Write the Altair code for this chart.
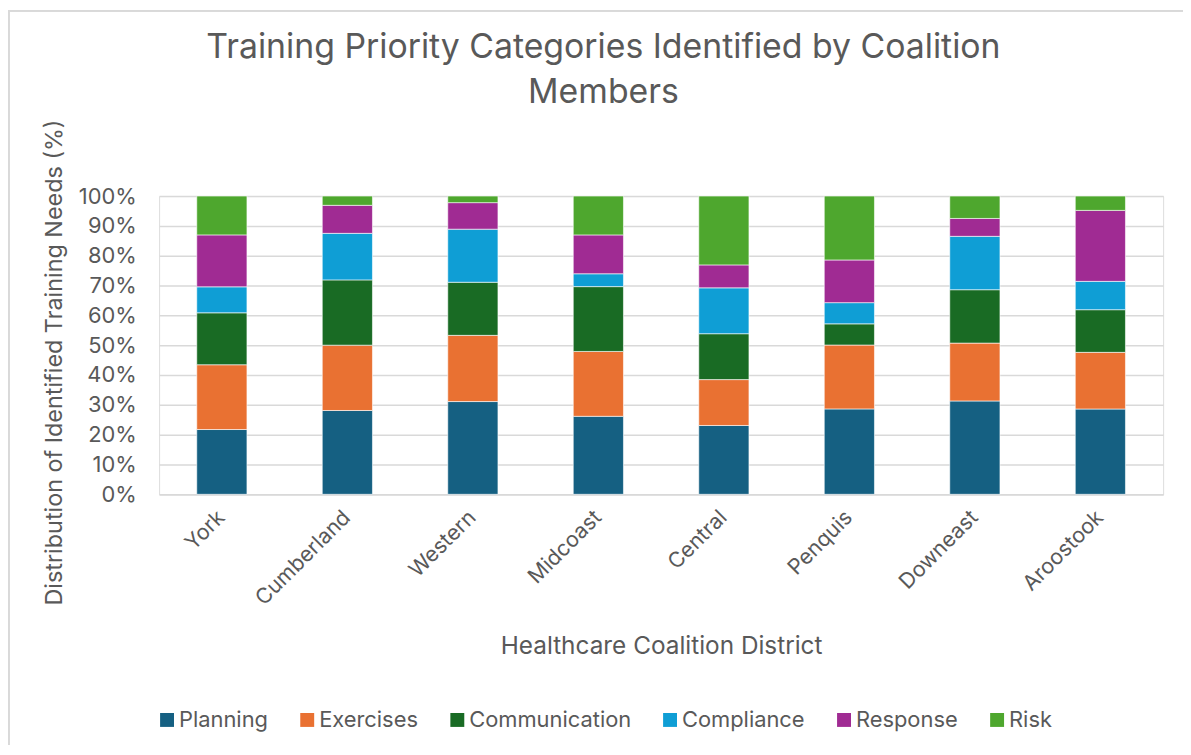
import altair as alt
import pandas as pd

districts = ["York", "Cumberland", "Western", "Midcoast", "Central", "Penquis", "Downeast", "Aroostook"]
categories = ["Planning", "Exercises", "Communication", "Compliance", "Response", "Risk"]
colors = ["#156082", "#E97132", "#196B24", "#0F9ED5", "#A02B93", "#4EA72E"]

planning      = [21.7, 28.1, 31.1, 26.1, 23.1, 28.6, 31.3, 28.6]
exercises     = [21.7, 21.9, 22.2, 21.7, 15.4, 21.4, 19.4, 19.0]
communication = [17.4, 21.9, 17.8, 21.7, 15.4, 7.1, 17.9, 14.3]
compliance    = [8.7, 15.6, 17.8, 4.3, 15.4, 7.1, 17.9, 9.5]
response      = [17.4, 9.4, 8.9, 13.0, 7.7, 14.3, 6.0, 23.8]
risk          = [13.0, 3.1, 2.2, 13.0, 23.1, 21.4, 7.5, 4.8]

series = [planning, exercises, communication, compliance, response, risk]
rows = []
for ci, (cat, vals) in enumerate(zip(categories, series)):
    for d, v in zip(districts, vals):
        rows.append({"District": d, "Category": cat, "Value": v, "idx": ci})
df = pd.DataFrame(rows)

FONT = "Inter"
GREY = "#595959"

bars = alt.Chart(df).mark_bar(stroke="white", strokeWidth=0.6).encode(
    x=alt.X("District:N", sort=districts,
            scale=alt.Scale(paddingInner=0.6, paddingOuter=0.3),
            axis=alt.Axis(title="Healthcare Coalition District", labelAngle=-45,
                          labelAlign="right", labelBaseline="middle", labelPadding=20,
                          ticks=False, domainColor="#d9d9d9", domainWidth=1.5,
                          labelFontSize=21.5, titleFontSize=24.5, labelColor=GREY, titleColor=GREY,
                          titleFontWeight="normal", titleY=153, titleBaseline="middle",
                          labelFont=FONT, titleFont=FONT)),
    y=alt.Y("Value:Q", stack="normalize",
            scale=alt.Scale(domain=[0, 1]),
            axis=alt.Axis(title="Distribution of Identified Training Needs (%)", format=".0%",
                          values=[0, 0.1, 0.2, 0.3, 0.4, 0.5, 0.6, 0.7, 0.8, 0.9, 1.0],
                          domain=False, ticks=False, labelPadding=23,
                          gridColor="#d9d9d9", gridWidth=1.5,
                          labelFontSize=22, titleFontSize=23.5, labelColor=GREY, titleColor=GREY,
                          titleFontWeight="normal", titleX=-105, titleY=167,
                          titleBaseline="middle", titleAlign="center", titleAngle=270,
                          labelFont=FONT, titleFont=FONT)),
    color=alt.Color("Category:N", sort=categories,
                    scale=alt.Scale(domain=categories, range=colors),
                    legend=alt.Legend(title=None, orient="none", direction="horizontal",
                                      legendX=-3, legendY=516, symbolType="square",
                                      symbolSize=196, symbolStrokeWidth=0,
                                      labelFontSize=22, labelColor=GREY, labelFont=FONT,
                                      labelLimit=400, columnPadding=28, labelOffset=1)),
    order=alt.Order("idx:Q", sort="ascending"),
)

border = alt.Chart(df).mark_rect(filled=False, stroke="#d9d9d9", strokeWidth=1.5).encode(
    x=alt.value(-151.5), x2=alt.value(1040), y=alt.value(-186.5), y2=alt.value(570)
)

chart = alt.layer(border, bars).properties(
    width=1010, height=300,
    title=alt.TitleParams(text=["Training Priority Categories Identified by Coalition", "Members"],
                          fontSize=34, font=FONT, color=GREY, fontWeight="normal",
                          lineHeight=46, anchor="middle", dx=-58, offset=-101),
    autosize=alt.AutoSizeParams(type="none"),
    padding={"left": 152, "top": 187, "right": 20, "bottom": 250},
).configure_view(stroke=None).configure(background="white")

chart.save("out.html", embed_options={"renderer": "svg", "actions": False})
